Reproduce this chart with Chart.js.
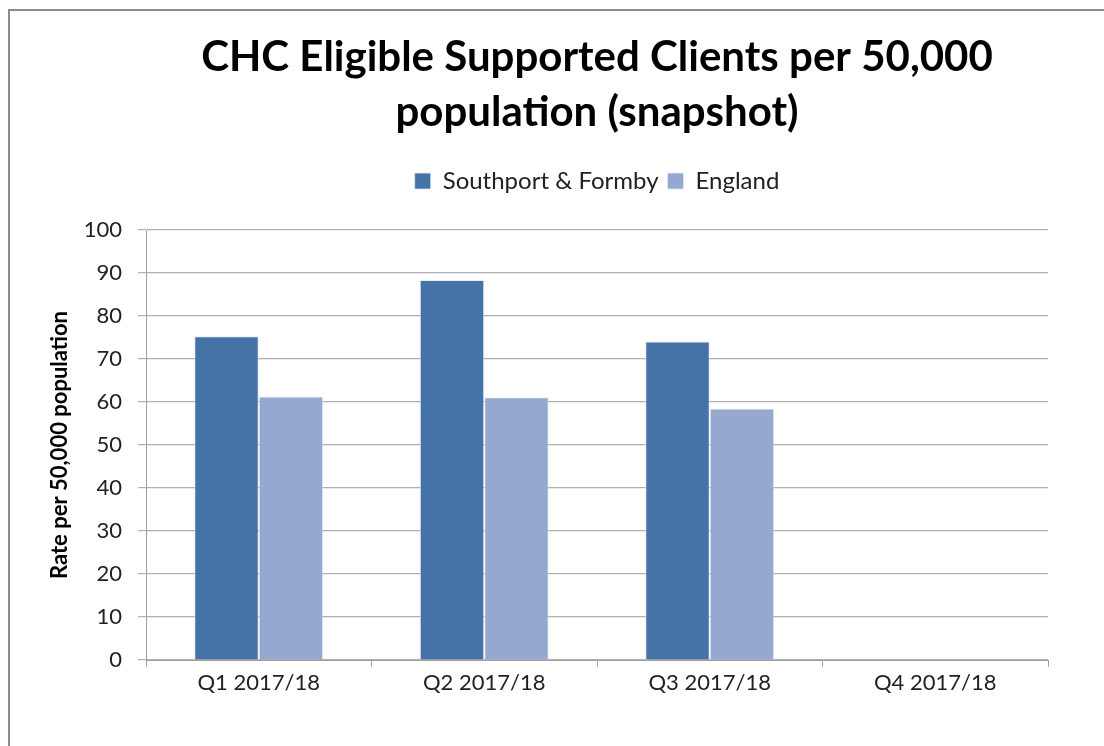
<!DOCTYPE html>
<html>
<head>
<meta charset="utf-8">
<script src="https://cdn.jsdelivr.net/npm/chart.js@4/dist/chart.umd.min.js"></script>
<style>
  html, body { margin: 0; padding: 0; background: #fff; width: 1104px; height: 746px; overflow: hidden; }
  #frame { position: absolute; left: 8px; top: 9px; width: 1110px; height: 760px; border: 2px solid #8c8c8c; background: #fff; box-sizing: border-box; }
  #wrap { position: absolute; left: 0; top: 0; width: 1104px; height: 746px; }
</style>
</head>
<body>
<div id="frame"></div>
<div id="wrap"><canvas id="c" width="1104" height="746"></canvas></div>
<script>
const categories = ['Q1 2017/18', 'Q2 2017/18', 'Q3 2017/18', 'Q4 2017/18'];
const southportFormby = [75.3, 88.4, 74.1, null];
const england = [61.3, 61.1, 58.5, null];
const titleLines = ['CHC Eligible Supported Clients per 50,000', 'population (snapshot)'];
const yAxisTitle = 'Rate per 50,000 population';

const FONT = 'Lato, "Open Sans", sans-serif';

new Chart(document.getElementById('c'), {
  type: 'bar',
  data: {
    labels: categories,
    datasets: [
      { label: 'Southport & Formby', data: southportFormby, backgroundColor: '#4572A7', borderColor: 'rgba(220,230,242,0.8)', borderWidth: 1 },
      { label: 'England', data: england, backgroundColor: '#95A9D0', borderColor: 'rgba(225,232,245,0.8)', borderWidth: 1 }
    ]
  },
  options: {
    responsive: false,
    animation: false,
    layout: { padding: { left: 45, right: 56, top: 0, bottom: 0 } },
    datasets: { bar: { barPercentage: 1.0, categoryPercentage: 0.572 } },
    plugins: {
      title: {
        display: true,
        fullSize: false,
        text: titleLines,
        color: '#000',
        font: { family: FONT, size: 42, weight: 'bold', lineHeight: 1.31 },
        padding: { top: 30, bottom: 20 }
      },
      subtitle: {
        display: true,
        text: ' ',
        weight: 500,
        font: { size: 10, lineHeight: 1 },
        padding: { top: 17, bottom: 0 }
      },
      legend: {
        display: true,
        fullSize: false,
        position: 'top',
        labels: {
          color: '#222',
          font: { family: FONT, size: 24 },
          boxWidth: 16,
          boxHeight: 16,
          padding: 9
        }
      },
      tooltip: { enabled: false }
    },
    scales: {
      x: {
        grid: { display: true, drawOnChartArea: false, drawTicks: true, tickLength: 7, color: '#a0a0a0', offset: true },
        border: { display: true, color: '#a0a0a0', width: 1 },
        ticks: { color: '#222', font: { family: FONT, size: 22 }, padding: 3, maxRotation: 0 },
        afterFit: (s) => { s.height = 86; }
      },
      y: {
        min: 0,
        max: 100,
        ticks: { stepSize: 10, color: '#222', font: { family: FONT, size: 22 }, padding: 16 },
        grid: { color: '#b0b0b0', lineWidth: 1.2, tickLength: 8, drawTicks: true },
        border: { display: true, color: '#a0a0a0', width: 1 },
        title: { display: true, text: yAxisTitle, color: '#000', font: { family: FONT, size: 22, weight: 'bold' }, padding: { top: 2, bottom: 0 } },
        afterFit: (s) => { s.width = 101; }
      }
    }
  }
});
</script>
</body>
</html>
